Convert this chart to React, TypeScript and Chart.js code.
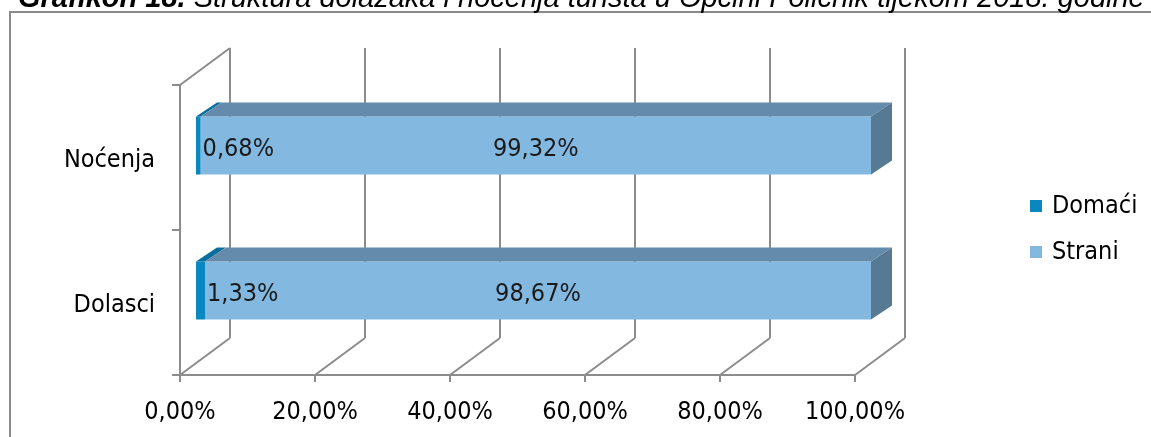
import React, { useEffect, useRef } from "react";
import { Chart, registerables } from "chart.js";

Chart.register(...registerables);

const categories = ["Noćenja", "Dolasci"];
const domaciValues = [0.68, 1.33];
const straniValues = [99.32, 98.67];
const seriesNames = ["Domaći", "Strani"];
const xTickValues = [0, 20, 40, 60, 80, 100];
const titleBold = "Grafikon 18.";
const titleRest = " Struktura dolazaka i noćenja turista u Općini Poličnik tijekom 2018. godine";

const FONT = "'DejaVu Sans Condensed', 'DejaVu Sans', sans-serif";
const FS = 25;
const COL_DOMACI = "#0a87bf";
const COL_DOMACI_TOP = "#0a6e9b";
const COL_STRANI = "#83b9e1";
const COL_STRANI_TOP = "#658bac";
const COL_STRANI_SIDE = "#567a93";
const GRID = "#8c8c8c";

// 3D geometry
const BAR_OX = 16, BAR_OY = -12; // bar front face shift from front plane
const BAR_DX = 21, BAR_DY = -14; // bar depth
const WALL_DX = 50, WALL_DY = -37; // back wall depth

const fmt = (v: number) => v.toFixed(2).replace(".", ",") + "%";

const threeD = {
  id: "threeD",
  beforeDraw(chart: any) {
    const ctx = chart.ctx;
    ctx.save();
    ctx.fillStyle = "#ffffff";
    ctx.fillRect(0, 0, chart.width, chart.height);
    ctx.strokeStyle = "#8a8a8a";
    ctx.lineWidth = 2;
    ctx.strokeRect(10, 12, chart.width + 20, chart.height + 20);
    ctx.fillStyle = "#000";
    ctx.textBaseline = "alphabetic";
    ctx.textAlign = "left";
    ctx.font = "italic bold 29px 'Liberation Sans', Arial, sans-serif";
    ctx.fillText(titleBold, 18, 7);
    const w = ctx.measureText(titleBold).width;
    ctx.font = "italic 29px 'Liberation Sans', Arial, sans-serif";
    ctx.fillText(titleRest, 18 + w, 7);
    ctx.restore();
  },
  beforeDatasetsDraw(chart: any) {
    const ctx = chart.ctx;
    const { top, bottom, left, right } = chart.chartArea;
    const xs = chart.scales.x;
    ctx.save();
    ctx.strokeStyle = GRID;
    ctx.lineWidth = 2;
    ctx.lineCap = "butt";
    ctx.beginPath();
    xTickValues.forEach((v) => {
      const px = xs.getPixelForValue(v);
      ctx.moveTo(px + WALL_DX, top + WALL_DY);
      ctx.lineTo(px + WALL_DX, bottom + WALL_DY);
      ctx.moveTo(px, bottom);
      ctx.lineTo(px + WALL_DX, bottom + WALL_DY);
      ctx.moveTo(px, bottom);
      ctx.lineTo(px, bottom + 7);
    });
    ctx.moveTo(left, top);
    ctx.lineTo(left, bottom);
    ctx.moveTo(left, top);
    ctx.lineTo(left + WALL_DX, top + WALL_DY);
    ctx.moveTo(left, bottom);
    ctx.lineTo(right, bottom);
    const n = categories.length;
    for (let i = 0; i <= n; i++) {
      const y = top + (i * (bottom - top)) / n;
      ctx.moveTo(left - 8, y);
      ctx.lineTo(left, y);
    }
    ctx.stroke();
    ctx.restore();
    ctx.save();
    ctx.translate(BAR_OX, BAR_OY);
  },
  afterDatasetsDraw(chart: any) {
    const ctx = chart.ctx;
    ctx.restore();
    ctx.save();
    const nSets = chart.data.datasets.length;
    const tops = [COL_DOMACI_TOP, COL_STRANI_TOP];
    for (let d = 0; d < nSets; d++) {
      const meta = chart.getDatasetMeta(d);
      meta.data.forEach((el: any) => {
        const p = el.getProps(["x", "y", "base", "height"], true);
        const x0 = Math.min(p.base, p.x) + BAR_OX;
        const x1 = Math.max(p.base, p.x) + BAR_OX;
        const yt = p.y - p.height / 2 + BAR_OY;
        const yb = p.y + p.height / 2 + BAR_OY;
        ctx.fillStyle = tops[d];
        ctx.beginPath();
        ctx.moveTo(x0, yt);
        ctx.lineTo(x1, yt);
        ctx.lineTo(x1 + BAR_DX, yt + BAR_DY);
        ctx.lineTo(x0 + BAR_DX, yt + BAR_DY);
        ctx.closePath();
        ctx.fill();
        if (d === nSets - 1) {
          ctx.fillStyle = COL_STRANI_SIDE;
          ctx.beginPath();
          ctx.moveTo(x1, yt);
          ctx.lineTo(x1 + BAR_DX, yt + BAR_DY);
          ctx.lineTo(x1 + BAR_DX, yb + BAR_DY);
          ctx.lineTo(x1, yb);
          ctx.closePath();
          ctx.fill();
        }
      });
    }
    ctx.fillStyle = "#1a1a1a";
    ctx.font = `${FS}px ${FONT}`;
    ctx.textBaseline = "middle";
    for (let d = 0; d < nSets; d++) {
      const meta = chart.getDatasetMeta(d);
      const vals = chart.data.datasets[d].data as number[];
      meta.data.forEach((el: any, i: number) => {
        const p = el.getProps(["x", "y", "base"], true);
        const y = p.y + BAR_OY + 4;
        const txt = fmt(vals[i]);
        if (d === 0) {
          ctx.textAlign = "left";
          ctx.fillText(txt, p.x + BAR_OX + 2, y);
        } else {
          ctx.textAlign = "center";
          ctx.fillText(txt, (p.x + p.base) / 2 + BAR_OX, y);
        }
      });
    }
    const legendCols = [COL_DOMACI, COL_STRANI];
    const legendY = [206, 252];
    ctx.font = `${FS}px ${FONT}`;
    ctx.textAlign = "left";
    seriesNames.forEach((name, i) => {
      ctx.fillStyle = legendCols[i];
      ctx.fillRect(1030, legendY[i] - 6, 12, 12);
      ctx.fillStyle = "#000";
      ctx.fillText(name, 1052, legendY[i]);
    });
    ctx.restore();
  },
};

export default function App() {
  const ref = useRef<HTMLCanvasElement | null>(null);
  useEffect(() => {
    if (!ref.current) return;
    const chart = new Chart(ref.current, {
      type: "bar",
      data: {
        labels: categories,
        datasets: [
          {
            label: seriesNames[0],
            data: domaciValues,
            backgroundColor: COL_DOMACI,
            categoryPercentage: 0.4,
            barPercentage: 1.0,
            borderWidth: 0,
          },
          {
            label: seriesNames[1],
            data: straniValues,
            backgroundColor: COL_STRANI,
            categoryPercentage: 0.4,
            barPercentage: 1.0,
            borderWidth: 0,
          },
        ],
      },
      options: {
        indexAxis: "y",
        animation: false,
        responsive: false,
        devicePixelRatio: 1,
        layout: { padding: { left: 0, top: 85, right: 296, bottom: 0 } },
        plugins: {
          legend: { display: false },
          tooltip: { enabled: false },
        },
        scales: {
          x: {
            stacked: true,
            min: 0,
            max: 100,
            afterBuildTicks: (s: any) => {
              s.ticks = xTickValues.map((v) => ({ value: v }));
            },
            afterFit: (s: any) => {
              s.height = 62;
            },
            grid: { display: false, drawTicks: false },
            border: { display: false },
            ticks: {
              callback: (v: any) => fmt(Number(v)),
              font: { family: FONT, size: FS },
              color: "#000",
              padding: 22,
              maxRotation: 0,
              autoSkip: false,
            },
          },
          y: {
            stacked: true,
            afterFit: (s: any) => {
              s.width = 180;
            },
            grid: { display: false, drawTicks: false },
            border: { display: false },
            ticks: {
              font: { family: FONT, size: FS },
              color: "#000",
              padding: 25,
              labelOffset: 3,
            },
          },
        },
      },
      plugins: [threeD],
    } as any);
    return () => chart.destroy();
  }, []);
  return (
    <canvas
      ref={ref}
      width={1151}
      height={437}
      style={{ position: "absolute", left: 0, top: 0, display: "block" }}
    />
  );
}
